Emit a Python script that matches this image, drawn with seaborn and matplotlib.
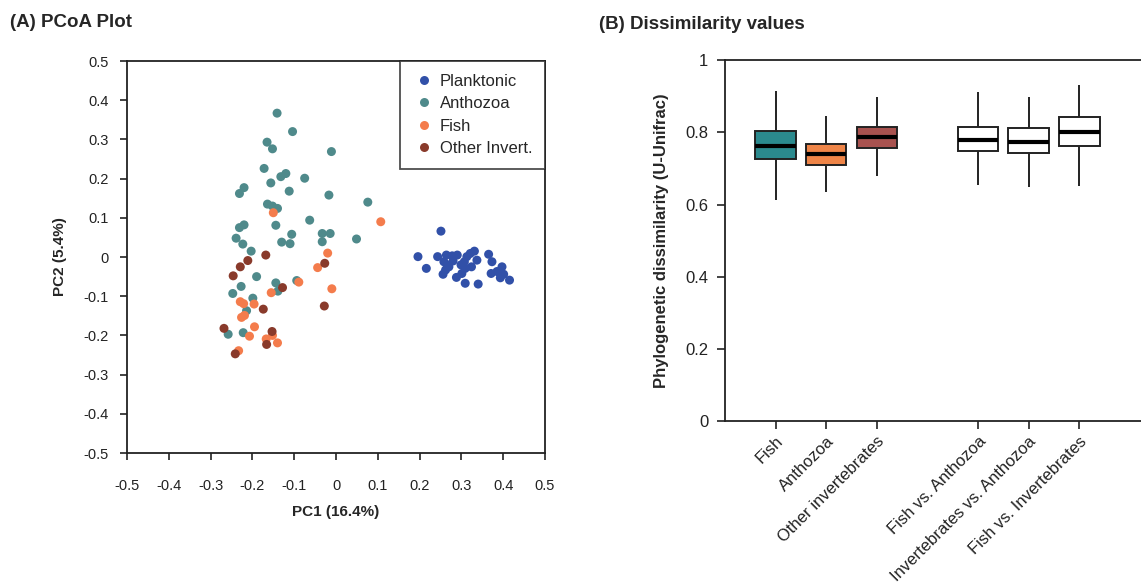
#!/usr/bin/env python3

import pandas as pd
import numpy as np
import matplotlib
matplotlib.use("Agg")
import matplotlib.pyplot as plt
import seaborn as sns

# PCoA coordinates (PC1, PC2)
planktonic_pc1 = [0.251, 0.196, 0.216, 0.243, 0.264, 0.278, 0.290, 0.258, 0.266, 0.256, 0.270,
                  0.288, 0.301, 0.309, 0.340, 0.299, 0.307, 0.313, 0.321, 0.331, 0.309, 0.324,
                  0.337, 0.365, 0.373, 0.371, 0.385, 0.397, 0.393, 0.401, 0.415, 0.262, 0.280]
planktonic_pc2 = [0.066, 0.001, -0.029, 0.001, 0.005, 0.003, 0.005, -0.012, -0.020, -0.044, -0.025,
                  -0.052, -0.042, -0.067, -0.069, -0.020, -0.012, 0.001, 0.009, 0.015, -0.029, -0.025,
                  -0.008, 0.007, -0.012, -0.042, -0.037, -0.025, -0.053, -0.044, -0.059, -0.033, -0.010]

anthozoa_pc1 = [-0.141, -0.104, -0.165, -0.152, -0.011, -0.172, -0.132, -0.120, -0.075, -0.156,
                -0.112, -0.220, -0.231, -0.017, 0.076, -0.164, -0.152, -0.140, -0.063, -0.144,
                -0.220, -0.231, -0.106, -0.033, -0.014, -0.239, 0.049, -0.223, -0.130, -0.110,
                -0.033, -0.203, -0.190, -0.227, -0.247, -0.144, -0.139, -0.094, -0.199, -0.214,
                -0.222, -0.258]
anthozoa_pc2 = [0.367, 0.320, 0.293, 0.276, 0.269, 0.226, 0.205, 0.213, 0.201, 0.189,
                0.168, 0.177, 0.162, 0.158, 0.140, 0.135, 0.130, 0.124, 0.094, 0.081,
                0.082, 0.075, 0.058, 0.060, 0.060, 0.048, 0.046, 0.033, 0.038, 0.034,
                0.039, 0.015, -0.050, -0.075, -0.093, -0.066, -0.087, -0.060, -0.105, -0.137,
                -0.193, -0.197]

fish_pc1 = [-0.150, 0.107, -0.020, -0.044, -0.089, -0.155, -0.010, -0.229, -0.221, -0.196,
            -0.226, -0.219, -0.195, -0.207, -0.167, -0.152, -0.140, -0.233]
fish_pc2 = [0.113, 0.090, 0.010, -0.027, -0.064, -0.091, -0.081, -0.114, -0.119, -0.120,
            -0.154, -0.149, -0.178, -0.202, -0.209, -0.200, -0.219, -0.239]

other_pc1 = [-0.168, -0.211, -0.229, -0.027, -0.246, -0.128, -0.174, -0.028, -0.268, -0.153,
             -0.166, -0.241]
other_pc2 = [0.005, -0.009, -0.025, -0.016, -0.048, -0.078, -0.133, -0.125, -0.182, -0.190,
             -0.223, -0.247]

# Box summaries: whisker low, Q1, median, Q3, whisker high
box_groups = ["Fish", "Anthozoa", "Other invertebrates",
              "Fish vs. Anthozoa", "Invertebrates vs. Anthozoa", "Fish vs. Invertebrates"]
box_low = [0.613, 0.636, 0.679, 0.655, 0.648, 0.652]
box_q1 = [0.727, 0.710, 0.757, 0.749, 0.742, 0.762]
box_median = [0.763, 0.739, 0.787, 0.779, 0.773, 0.801]
box_q3 = [0.803, 0.767, 0.815, 0.814, 0.811, 0.841]
box_high = [0.914, 0.844, 0.897, 0.911, 0.898, 0.930]

point_colors = {"Planktonic": "#3150a8", "Anthozoa": "#4f8a8b",
                "Fish": "#f47c4c", "Other Invert.": "#893a2b"}
box_colors = ["#2b8a8e", "#ef8548", "#a8524f", "white", "white", "white"]

sns.set_style("white")
plt.rcParams["font.family"] = ["Liberation Sans", "DejaVu Sans"]

fig = plt.figure(figsize=(11.41, 5.85), dpi=100)

# (A) PCoA scatter
pcoa = pd.concat([
    pd.DataFrame({"PC1": planktonic_pc1, "PC2": planktonic_pc2, "group": "Planktonic"}),
    pd.DataFrame({"PC1": anthozoa_pc1, "PC2": anthozoa_pc2, "group": "Anthozoa"}),
    pd.DataFrame({"PC1": fish_pc1, "PC2": fish_pc2, "group": "Fish"}),
    pd.DataFrame({"PC1": other_pc1, "PC2": other_pc2, "group": "Other Invert."}),
], ignore_index=True)

ax1 = fig.add_axes([0.1113, 0.2256, 0.3664, 0.6701])
sns.scatterplot(data=pcoa, x="PC1", y="PC2", hue="group", palette=point_colors,
                s=42, edgecolor="none", linewidth=0, ax=ax1)
ax1.set_xlim(-0.5, 0.5)
ax1.set_ylim(-0.5, 0.5)
ticks = np.round(np.arange(-0.5, 0.51, 0.1), 1)
ax1.set_xticks(ticks)
ax1.set_yticks(ticks)
ax1.set_xticklabels([f"{t:g}" if t != 0 else "0" for t in ticks])
ax1.set_yticklabels([f"{t:g}" if t != 0 else "0" for t in ticks])
ax1.tick_params(axis="both", direction="out", length=5, width=1.2, labelsize=10.5,
                left=True, bottom=True, colors="#222222")
ax1.tick_params(axis="x", pad=14)
ax1.tick_params(axis="y", pad=8)
for sp in ax1.spines.values():
    sp.set_linewidth(1.3)
    sp.set_color("#222222")
ax1.set_xlabel("PC1 (16.4%)", fontsize=11, fontweight="bold", labelpad=8)
ax1.set_ylabel("PC2 (5.4%)", fontsize=11, fontweight="bold", labelpad=12)
leg = ax1.legend(loc="upper right", borderaxespad=0, fancybox=False, frameon=True,
                 fontsize=12, handletextpad=0.25, borderpad=0.75, labelspacing=0.45,
                 markerscale=1.0, handlelength=1.4)
leg.get_frame().set_edgecolor("#222222")
leg.get_frame().set_linewidth(1.3)
leg.set_title(None)

# (B) Dissimilarity box plots, built from the five summary values of each box
stats = pd.DataFrame({"group": np.repeat(box_groups, 5),
                      "value": np.column_stack([box_low, box_q1, box_median,
                                                box_q3, box_high]).ravel()})
order = box_groups[:3] + [" "] + box_groups[3:]

ax2 = fig.add_axes([0.6354, 0.2798, 0.3646, 0.6176])
sns.boxplot(data=stats, x="group", y="value", hue="group", order=order,
            palette=dict(zip(box_groups, box_colors)), saturation=1, whis=(0, 100),
            width=0.8, showcaps=False, showfliers=False, linecolor="#222222", linewidth=1.4,
            medianprops={"color": "black", "linewidth": 3}, legend=False, ax=ax2)
ax2.set_xlim(-1, 7.22)
ax2.set_ylim(0, 1)
ax2.set_yticks([0, 0.2, 0.4, 0.6, 0.8, 1])
ax2.set_yticklabels(["0", "0.2", "0.4", "0.6", "0.8", "1"])
ax2.set_xticks([0, 1, 2, 4, 5, 6])
ax2.set_xticklabels(box_groups, rotation=45, ha="right", rotation_mode="anchor")
ax2.tick_params(axis="y", direction="out", length=6, width=1.2, labelsize=12, left=True,
                pad=6, colors="#222222")
ax2.tick_params(axis="x", direction="out", length=6, width=1.2, labelsize=12, bottom=True,
                pad=3, colors="#222222")
ax2.spines["right"].set_visible(False)
for sp in ["left", "top", "bottom"]:
    ax2.spines[sp].set_linewidth(1.3)
    ax2.spines[sp].set_color("#222222")
ax2.set_xlabel("")
ax2.set_ylabel("Phylogenetic dissimilarity (U-Unifrac)", fontsize=12, fontweight="bold",
               labelpad=12)

fig.text(0.009, 0.962, "(A) PCoA Plot", fontsize=13.5, fontweight="bold", va="center")
fig.text(0.525, 0.958, "(B) Dissimilarity values", fontsize=13.5, fontweight="bold",
         va="center")

fig.savefig("out.png", dpi=100)
plt.close(fig)
